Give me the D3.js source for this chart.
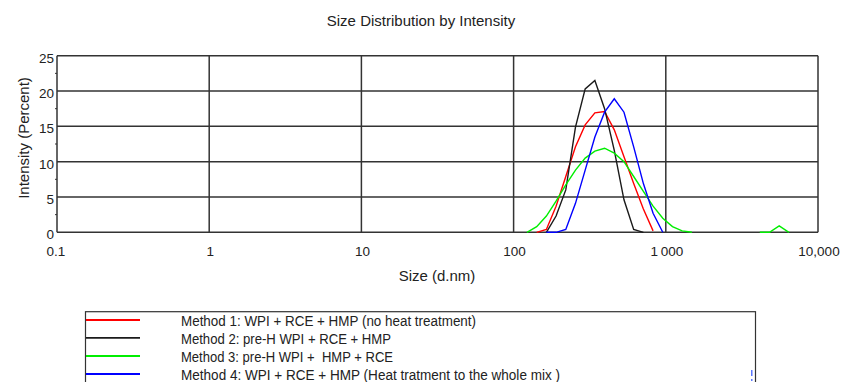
<!DOCTYPE html>
<html>
<head>
<meta charset="utf-8">
<script src="https://cdn.jsdelivr.net/npm/d3@7"></script>
<style>
  html, body { margin: 0; padding: 0; background: #fff; }
  svg { display: block; font-family: Arial, "Liberation Sans", sans-serif; }
</style>
</head>
<body>
<svg id="chart" width="841" height="382"></svg>
<script>
// ---- data (Malvern size bins, d.nm) ----
const sizes = [105.7, 122.4, 141.8, 164.2, 190.1, 220.2, 255.0, 295.3, 342.0, 396.1,
               458.7, 531.2, 615.1, 712.4, 825.0, 955.4, 1106, 1281, 1484, 1718,
               1990, 2305, 2669, 3091, 3580, 4145, 4801, 5560, 6439, 7457];
const method1 = [null, null, 0, 0.4, 3.7, 7.9, 12.1, 15.2, 16.9, 17.1,
                 14.5, 10.7, 6.9, 3.3, 0.2, null, null, null, null, null,
                 null, null, null, null, null, null, null, null, null, null];
const method2 = [null, null, null, 0, 2.3, 6.0, 14.9, 20.3, 21.5, 17.5,
                 11.6, 4.6, 0.4, 0, null, null, null, null, null, null,
                 null, null, null, null, null, null, null, null, null, null];
const method3 = [null, 0, 0.8, 2.3, 4.4, 6.7, 8.8, 10.5, 11.5, 11.9,
                 11.2, 10.0, 7.9, 5.8, 3.7, 2.0, 0.8, 0.2, 0, null,
                 null, null, null, null, null, 0, 0, 0.9, 0, null];
const method4 = [null, null, null, 0, 0, 0.4, 4.1, 8.8, 13.5, 17.0,
                 18.9, 17.0, 12.1, 6.9, 2.7, 0, null, null, null, null,
                 null, null, null, null, null, null, null, null, null, null];
const seriesNames = [
  "Method 1: WPI + RCE + HMP (no heat treatment)",
  "Method 2: pre-H WPI + RCE + HMP",
  "Method 3: pre-H WPI +  HMP + RCE",
  "Method 4: WPI + RCE + HMP (Heat tratment to the whole mix )"
];
const seriesColors = ["#ff0000", "#1a1a1a", "#00ee00", "#0000ff"];
const seriesValues = [method1, method2, method3, method4];
const xTicks = [0.1, 1, 10, 100, 1000, 10000];
const xTickLabels = ["0.1", "1", "10", "100", "1\u2009000", "10,000"];
const yTicks = [0, 5, 10, 15, 20, 25];
const yMinorTicks = [2.5, 7.5, 12.5, 17.5, 22.5];
const title = "Size Distribution by Intensity";
const xTitle = "Size (d.nm)";
const yTitle = "Intensity (Percent)";

// ---- layout ----
const svg = d3.select("#chart");
const L = 57, R = 818, T = 55.7, B = 232.3;
const x = d3.scaleLog().domain([0.1, 10000]).range([L, R]);
const y = d3.scaleLinear().domain([0, 25]).range([B, T]);
const gridColor = "#333333";

// title
svg.append("text").attr("x", 421).attr("y", 25.5).attr("text-anchor", "middle")
  .attr("font-size", 15).attr("fill", "#222").text(title);

// grid
const g = svg.append("g");
g.selectAll("line.h").data(yTicks).join("line")
  .attr("x1", L).attr("x2", R).attr("y1", d => y(d)).attr("y2", d => y(d))
  .attr("stroke", gridColor).attr("stroke-width", 1.5);
g.selectAll("line.v").data(xTicks).join("line")
  .attr("x1", d => x(d)).attr("x2", d => x(d)).attr("y1", T).attr("y2", B)
  .attr("stroke", gridColor).attr("stroke-width", 1.5);
g.selectAll("line.m").data(yMinorTicks).join("line")
  .attr("x1", L - 2).attr("x2", L).attr("y1", d => y(d)).attr("y2", d => y(d))
  .attr("stroke", gridColor).attr("stroke-width", 1);

// tick labels
svg.append("g").selectAll("text").data(yTicks).join("text")
  .attr("x", L - 3).attr("y", d => y(d) + 7).attr("text-anchor", "end")
  .attr("font-size", 13.5).attr("fill", "#222").text(d => d);
svg.append("g").selectAll("text").data(xTicks).join("text")
  .attr("x", (d, i) => x(d) + (i === 0 ? -1 : 1)).attr("y", 256).attr("text-anchor", "middle")
  .attr("font-size", 13.5).attr("fill", "#222").text((d, i) => xTickLabels[i]);

// axis titles
svg.append("text").attr("x", 437).attr("y", 280.5).attr("text-anchor", "middle")
  .attr("font-size", 15).attr("fill", "#222").text(xTitle);
svg.append("text").attr("transform", "translate(28.5,138) rotate(-90)")
  .attr("text-anchor", "middle").attr("font-size", 15).attr("fill", "#222").text(yTitle);

// series
const line = d3.line()
  .defined(d => d.v !== null)
  .x(d => x(d.s)).y(d => y(d.v));
seriesValues.forEach((vals, k) => {
  const pts = sizes.map((s, i) => ({ s: s, v: vals[i] }));
  svg.append("path").datum(pts).attr("d", line)
    .attr("fill", "none").attr("stroke", seriesColors[k]).attr("stroke-width", 1.4)
    .attr("stroke-linejoin", "miter");
});

// legend
const lg = svg.append("g");
lg.append("rect").attr("x", 85.5).attr("y", 311.7).attr("width", 670).attr("height", 90)
  .attr("fill", "none").attr("stroke", "#333").attr("stroke-width", 1.2);
const rowY = [320, 337.8, 356, 374];
const textW = [295, 210, 212, 379];
seriesNames.forEach((name, k) => {
  lg.append("line").attr("x1", 86).attr("x2", 140).attr("y1", rowY[k]).attr("y2", rowY[k])
    .attr("stroke", seriesColors[k]).attr("stroke-width", 1.8);
  lg.append("text").attr("x", 181).attr("y", rowY[k] + 5.8)
    .attr("font-size", 15.5).attr("fill", "#222")
    .attr("textLength", textW[k]).attr("lengthAdjust", "spacingAndGlyphs")
    .style("white-space", "pre").attr("xml:space", "preserve").text(name);
});
// small blue artefact near legend edge
lg.append("line").attr("x1", 751.8).attr("x2", 751.8).attr("y1", 370).attr("y2", 376)
  .attr("stroke", "#3355ff").attr("stroke-width", 1.2);
lg.append("line").attr("x1", 751.8).attr("x2", 751.8).attr("y1", 379).attr("y2", 381)
  .attr("stroke", "#3355ff").attr("stroke-width", 1.2);
</script>
</body>
</html>
